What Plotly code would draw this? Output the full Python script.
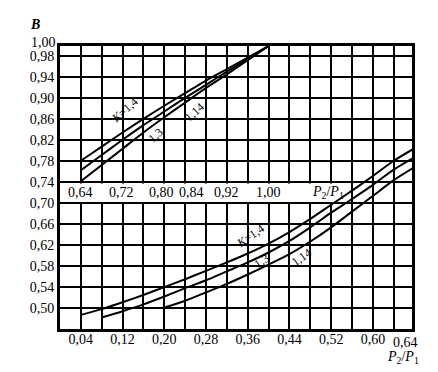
import plotly.graph_objects as go

# ---------------- data ----------------
# lower family: plotted against the bottom P2/P1 axis (0.04 ... 0.68)
x_low_k14 = [0.04, 0.08, 0.12, 0.16, 0.20, 0.24, 0.28, 0.32, 0.36, 0.40, 0.44, 0.48, 0.52, 0.56, 0.60, 0.64, 0.68]
b_low_k14 = [0.487, 0.498, 0.511, 0.525, 0.540, 0.555, 0.571, 0.587, 0.604, 0.623, 0.645, 0.670, 0.697, 0.724, 0.752, 0.781, 0.805]

x_low_k13 = [0.08, 0.12, 0.16, 0.20, 0.24, 0.28, 0.32, 0.36, 0.40, 0.44, 0.48, 0.52, 0.56, 0.60, 0.64, 0.68]
b_low_k13 = [0.482, 0.494, 0.507, 0.522, 0.538, 0.553, 0.570, 0.587, 0.606, 0.628, 0.654, 0.682, 0.708, 0.735, 0.764, 0.788]

x_low_k114 = [0.20, 0.24, 0.28, 0.32, 0.36, 0.40, 0.44, 0.48, 0.52, 0.56, 0.60, 0.64, 0.68]
b_low_k114 = [0.501, 0.514, 0.530, 0.546, 0.564, 0.583, 0.603, 0.627, 0.654, 0.684, 0.714, 0.744, 0.769]

# upper family: plotted against the inner (top) P2/P1 scale (0.64 ... 1.00)
x_up = [0.64, 0.68, 0.72, 0.76, 0.80, 0.84, 0.88, 0.92, 0.96, 1.00]
b_up_k14 = [0.781, 0.808, 0.835, 0.861, 0.886, 0.910, 0.934, 0.956, 0.978, 1.000]
b_up_k13 = [0.763, 0.792, 0.821, 0.849, 0.875, 0.901, 0.926, 0.951, 0.975, 1.000]
b_up_k114 = [0.742, 0.773, 0.804, 0.835, 0.864, 0.892, 0.920, 0.946, 0.973, 1.000]

# axes / ticks
x_grid = [0.04, 0.08, 0.12, 0.16, 0.20, 0.24, 0.28, 0.32, 0.36, 0.40, 0.44, 0.48, 0.52, 0.56, 0.60, 0.64]
x_labels = ["0,04", " ", "0,12", " ", "0,20", " ", "0,28", " ", "0,36", " ", "0,44", " ", "0,52", " ", "0,60", " "]
x_extra_val, x_extra_label = 0.64, "0,64"
y_grid = [1.00, 0.98, 0.94, 0.90, 0.86, 0.82, 0.78, 0.74, 0.70, 0.66, 0.62, 0.58, 0.54, 0.50]
y_labels = [" ", "0,98", "0,94", "0,90", "0,86", "0,82", "0,78", "0,74", "0,70", "0,66", "0,62", "0,58", "0,54", "0,50"]
y_extra_val, y_extra_label = 1.00, "1,00"
top_vals = [0.64, 0.72, 0.80, 0.84, 0.92, 1.00]
top_labels = ["0,64", "0,72", "0,80", "0,84", "0,92", "1,00"]
top_shift = [0, -1, -3, 6, 0, 0]

# curve labels: (text, value on the axis, B, axis, angle)
curve_labels = [
    ("<i>K</i>=1,4", 0.724, 0.878, "x2", -42),
    ("1,3", 0.784, 0.830, "x2", -42),
    ("1,14", 0.858, 0.874, "x2", -42),
    ("<i>K</i>=1,4", 0.3645, 0.637, "x", -35),
    ("1,3", 0.387, 0.590, "x", -35),
    ("1,14", 0.464, 0.597, "x", -35),
]

FONT = "Liberation Serif"
LINE = dict(color="black", width=2, shape="spline", smoothing=0.6)

fig = go.Figure()
for xs, ys in [(x_low_k14, b_low_k14), (x_low_k13, b_low_k13), (x_low_k114, b_low_k114)]:
    fig.add_trace(go.Scatter(x=xs, y=ys, mode="lines", line=LINE, xaxis="x", yaxis="y",
                             showlegend=False, hoverinfo="skip"))
for ys in [b_up_k14, b_up_k13, b_up_k114]:
    fig.add_trace(go.Scatter(x=x_up, y=ys, mode="lines", line=LINE, xaxis="x2", yaxis="y",
                             showlegend=False, hoverinfo="skip"))

annotations = []
for v, t, s in zip(top_vals, top_labels, top_shift):
    annotations.append(dict(x=v, y=0.72, xref="x2", yref="y", text=t, showarrow=False,
                            xanchor="center", xshift=s,
                            font=dict(family=FONT, size=14, color="black")))
annotations.append(dict(x=0.5136, y=0.72, xref="x", yref="y", xanchor="center",
                        text="<i>P</i><sub>2</sub>/<i>P</i><sub>1</sub>", showarrow=False,
                        font=dict(family=FONT, size=14, color="black")))
for t, xv, yv, ax, ang in curve_labels:
    annotations.append(dict(x=xv, y=yv, xref=ax, yref="y", text=t, showarrow=False,
                            xanchor="center", textangle=ang,
                            font=dict(family=FONT, size=12, color="black")))
# extra tick labels shifted apart as in the original
annotations.append(dict(x=x_extra_val, y=0, xref="x", yref="paper", text=x_extra_label,
                        showarrow=False, xanchor="center", yanchor="top", xshift=12, yshift=-4,
                        font=dict(family=FONT, size=14, color="black")))
annotations.append(dict(x=0, y=y_extra_val, xref="paper", yref="y", text=y_extra_label,
                        showarrow=False, xanchor="right", yanchor="middle", xshift=-2, yshift=4,
                        font=dict(family=FONT, size=14, color="black")))
annotations.append(dict(x=-0.072, y=1.076, xref="paper", yref="paper", text="<i><b>B</b></i>",
                        xanchor="center", yanchor="middle",
                        showarrow=False, font=dict(family=FONT, size=14, color="black")))
annotations.append(dict(x=0.974, y=-0.100, xref="paper", yref="paper",
                        xanchor="center", yanchor="middle",
                        text="<i>P</i><sub>2</sub>/<i>P</i><sub>1</sub>", showarrow=False,
                        font=dict(family=FONT, size=14, color="black")))

fig.update_layout(
    width=438, height=372,
    margin=dict(l=52, r=34, t=38, b=51),
    paper_bgcolor="white", plot_bgcolor="white",
    font=dict(family=FONT, size=14, color="black"),
    xaxis=dict(range=[0, 0.675], tickvals=x_grid, ticktext=x_labels, tickangle=0, showgrid=True,
               gridcolor="black", gridwidth=2, zeroline=False, showline=True, mirror=True,
               linecolor="black", linewidth=3, ticks="", ticklabelstandoff=-5, fixedrange=True),
    xaxis2=dict(range=[0.60, 1.275], overlaying="x", anchor="y", visible=False, fixedrange=True),
    yaxis=dict(range=[0.46, 1.00], tickvals=y_grid, ticktext=y_labels, showgrid=True,
               gridcolor="black", gridwidth=2, zeroline=False, showline=True, mirror=True,
               linecolor="black", linewidth=3, ticks="", fixedrange=True),
    shapes=[dict(type="rect", xref="x", yref="y", x0=0.003, x1=0.55, y0=0.7025, y1=0.7375,
                 fillcolor="white", line=dict(width=0), layer="between")],
    annotations=annotations,
)

fig.write_html("out.html")
